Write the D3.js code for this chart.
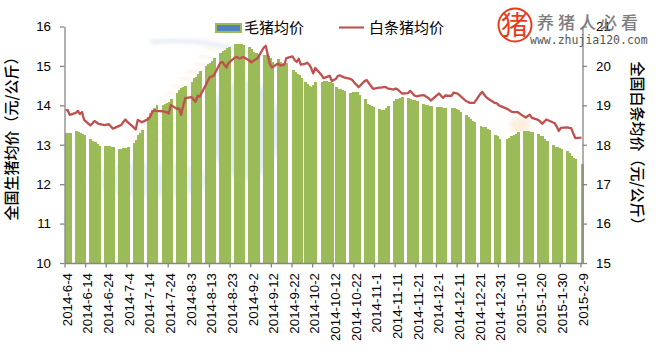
<!DOCTYPE html>
<html><head><meta charset="utf-8">
<script src="https://cdn.jsdelivr.net/npm/d3@7"></script>
<style>
html,body{margin:0;padding:0;background:#fff}
svg{display:block}
text{font-family:"Liberation Sans",Arial,sans-serif;fill:#000}
.cjk{font-family:"Noto Sans CJK SC",sans-serif}
</style></head><body><svg id="c" width="656" height="355"></svg>
<script>
const tickLabels = ["2014-6-4","2014-6-14","2014-6-24","2014-7-4","2014-7-14","2014-7-24","2014-8-3","2014-8-13","2014-8-23","2014-9-2","2014-9-12","2014-9-22","2014-10-2","2014-10-12","2014-10-22","2014-11-1","2014-11-11","2014-11-21","2014-12-1","2014-12-11","2014-12-21","2014-12-31","2015-1-10","2015-1-20","2015-1-30","2015-2-9"];
const extraSessions = ["2014-9-28","2014-10-11","2015-1-4"];
const closedSessions = ["2015-1-1","2015-1-2"];
const leftTicks = [10,11,12,13,14,15,16];
const rightTicks = [15,16,17,18,19,20,21];
const seriesNames = ["毛猪均价","白条猪均价"];
// 毛猪均价, one value per session, Mon-Fri rows
const hogPrice = [
13.29,13.30,13.30,
13.36,13.33,13.30,13.27,13.25,
13.15,13.10,13.07,13.02,12.98,
12.97,12.96,12.96,12.95,12.94,
12.89,12.90,12.92,12.93,12.95,
13.05,13.12,13.25,13.30,13.38,
13.71,13.81,13.88,13.93,14.01,
14.01,14.03,14.06,14.09,14.15,
14.31,14.39,14.44,14.46,14.49,
14.60,14.69,14.73,14.80,14.86,
15.00,15.04,15.08,15.13,15.19,
15.34,15.37,15.41,15.45,15.47,
15.56,15.56,15.56,15.56,15.53,
15.47,15.42,15.36,15.32,15.30,
15.28,15.27,15.24,15.19,15.11,
15.17,15.11,15.08,15.07,15.07,
14.90,14.84,14.80,14.76,14.69,
14.58,14.54,14.50,14.47,14.51,14.59,
14.60,14.62,14.63,14.60,14.58,14.56,
14.46,14.42,14.41,14.39,14.37,
14.31,14.33,14.35,14.33,14.27,
14.15,14.03,14.01,13.98,13.95,
13.90,13.89,13.88,13.93,13.98,
14.12,14.15,14.16,14.19,14.22,
14.18,14.17,14.14,14.13,14.12,
14.03,14.01,14.00,13.99,13.99,
13.95,13.95,13.95,13.94,13.93,
13.93,13.93,13.90,13.87,13.83,
13.75,13.70,13.65,13.61,13.57,
13.48,13.46,13.44,13.41,13.38,
13.25,13.21,13.14,
13.15,13.18,13.21,13.24,13.28,13.32,
13.34,13.35,13.35,13.33,13.32,
13.27,13.23,13.21,13.14,13.10,
13.00,12.95,12.94,12.92,12.90,
12.84,12.78,12.72,12.66,12.63,
12.51];
// 白条猪均价
const carcassPrice = [
18.88,18.88,18.76,
18.81,18.86,18.78,18.83,18.63,
18.49,18.54,18.60,18.57,18.53,
18.50,18.51,18.52,18.46,18.41,
18.48,18.50,18.58,18.64,18.58,
18.44,18.39,18.63,18.60,18.57,
18.65,18.71,18.83,18.87,18.86,
18.85,18.84,18.83,18.79,19.01,
18.91,18.93,18.76,18.98,19.18,
19.21,19.15,19.09,19.24,19.22,
19.52,19.63,19.72,19.73,19.77,
20.08,20.10,20.03,19.96,20.08,
20.21,20.23,20.19,20.20,20.23,
20.14,20.09,20.13,20.16,20.19,
20.46,20.51,20.28,20.05,19.96,
20.06,20.01,20.02,20.03,20.20,
20.24,20.15,20.10,20.18,20.03,
20.05,20.08,20.04,19.95,19.81,19.95,
19.77,19.69,19.71,19.73,19.75,19.62,
19.67,19.75,19.76,19.73,19.71,
19.67,19.64,19.57,19.52,19.46,
19.62,19.64,19.56,19.49,19.42,
19.45,19.45,19.46,19.47,19.43,
19.40,19.43,19.40,19.35,19.30,
19.31,19.37,19.31,19.25,19.23,
19.26,19.25,19.21,19.18,19.12,
19.26,19.30,19.24,19.19,19.25,
19.24,19.32,19.31,19.30,19.25,
19.11,19.09,19.06,19.06,19.06,
19.29,19.34,19.26,19.20,19.16,
19.06,19.05,19.00,
18.91,18.88,18.84,18.83,18.83,18.83,
18.72,18.69,18.73,18.76,18.68,
18.63,18.59,18.53,18.59,18.64,
18.57,18.55,18.46,18.35,18.43,
18.44,18.43,18.42,18.29,18.17,
18.18];

const parse = d3.utcParse("%Y-%m-%d");
const fmt = d3.utcFormat("%Y-%-m-%-d");
const firstDay = parse(tickLabels[0]);
const lastDay = parse(tickLabels[tickLabels.length-1]);
const extra = new Set(extraSessions), closed = new Set(closedSessions);
const sessions = d3.utcDay.range(firstDay, d3.utcDay.offset(lastDay,1)).filter(d=>{
  const k = fmt(d), w = d.getUTCDay();
  return !closed.has(k) && ((w>0 && w<6) || extra.has(k));
});
if (sessions.length!==hogPrice.length || sessions.length!==carcassPrice.length)
  console.error("length mismatch", sessions.length, hogPrice.length, carcassPrice.length);

const L=64.5, R=582.5, T=26.5, B=263;
const svg = d3.select("#c");
const x = d3.scaleUtc().domain([firstDay, d3.utcDay.offset(lastDay,1)]).range([L,R]);
const yL = d3.scaleLinear().domain([10,16]).range([B,T]);
const yR = d3.scaleLinear().domain([15,21]).range([B,T]);
const step = x(d3.utcDay.offset(firstDay,1))-x(firstDay);

// faint watermark behind the plot
const wm = svg.append("g");
const defs = svg.append("defs");
defs.append("filter").attr("id","soft").append("feGaussianBlur").attr("stdDeviation",2.2);
wm.append("path").attr("d","M150 42 Q205 36 262 58").attr("fill","none").attr("stroke","#d5deec").attr("stroke-width",3.5).attr("filter","url(#soft)").attr("opacity",.75);
d3.range(13).forEach(i=>{
  wm.append("line").attr("x1",205-i*6.6).attr("x2",165-i*2.5+50).attr("y1",48+i*7.4).attr("y2",50+i*7.8)
    .attr("stroke","#fdeedd").attr("stroke-width",3).attr("filter","url(#soft)").attr("opacity",.9);
});
wm.append("ellipse").attr("cx",245).attr("cy",130).attr("rx",36).attr("ry",50).attr("fill","#dfe7f3").attr("filter","url(#soft)").attr("opacity",.8);
wm.append("ellipse").attr("cx",520).attr("cy",125).attr("rx",10).attr("ry",8).attr("fill","#fdeedd").attr("filter","url(#soft)");
wm.append("ellipse").attr("cx",150).attr("cy",180).attr("rx",60).attr("ry",18).attr("fill","#dfe7f3").attr("filter","url(#soft)").attr("opacity",.6);

// bars
svg.append("g").attr("shape-rendering","crispEdges").selectAll("rect").data(hogPrice).join("rect")
  .attr("x",(v,i)=>x(sessions[i])+0.2)
  .attr("width",step+0.9)
  .attr("y",v=>yL(v))
  .attr("height",v=>yL(10)-yL(v))
  .attr("fill","#9BBB59");

// line
svg.append("path").datum(carcassPrice)
  .attr("fill","none").attr("stroke","#C0504D").attr("stroke-width",2.3)
  .attr("stroke-linejoin","round")
  .attr("d",d3.line().x((v,i)=>x(sessions[i])+step/2).y(v=>yR(v)));

// axes
function styleAxis(g){
  g.selectAll(".domain,.tick line").attr("stroke","#868686").attr("stroke-width",1.3);
  g.selectAll("text").attr("font-size",13.3).attr("fill","#000").attr("font-family","Liberation Sans");
}
const gL = svg.append("g").attr("transform",`translate(${L},0)`)
  .call(d3.axisLeft(yL).tickValues(leftTicks).tickSize(4.5).tickSizeOuter(0).tickPadding(9).tickFormat(d3.format("d"))).call(styleAxis);
const gR = svg.append("g").attr("transform",`translate(${R},0)`)
  .call(d3.axisRight(yR).tickValues(rightTicks).tickSize(4.5).tickSizeOuter(0).tickPadding(9).tickFormat(d3.format("d"))).call(styleAxis);
const gX = svg.append("g").attr("transform",`translate(0,${B})`)
  .call(d3.axisBottom(x).tickValues(tickLabels.map(parse)).tickSize(4.5).tickSizeOuter(0).tickFormat(fmt)).call(styleAxis);
gX.selectAll(".tick text").attr("text-anchor","end").attr("dy",null).attr("y",null)
  .attr("transform","translate(6.8,10) rotate(-90)").attr("x",0).attr("dominant-baseline","auto");

// axis titles
svg.append("text").attr("class","cjk").attr("text-anchor","middle").attr("font-size",15).attr("font-weight",500)
  .attr("transform","translate(16.5,135) rotate(-90)").text("全国生猪均价（元/公斤）");
svg.append("text").attr("class","cjk").attr("text-anchor","middle").attr("font-size",15).attr("font-weight",500)
  .attr("transform","translate(632,147) rotate(90)").text("全国白条均价（元/公斤）");

// legend
svg.append("rect").attr("x",216).attr("y",24).attr("width",25).attr("height",8).attr("fill","#4F81BD").attr("stroke","#9BBB59").attr("stroke-width",2);
svg.append("text").attr("class","cjk").attr("x",244).attr("y",33).attr("font-size",15).text(seriesNames[0]);
svg.append("line").attr("x1",339).attr("x2",364).attr("y1",27.5).attr("y2",27.5).attr("stroke","#C0504D").attr("stroke-width",2.1);
svg.append("text").attr("class","cjk").attr("x",369).attr("y",33).attr("font-size",15).text(seriesNames[1]);

// logo
svg.append("circle").attr("cx",515).attr("cy",25).attr("r",16.5).attr("fill","#fff").attr("stroke","#ea3a1c").attr("stroke-width",2);
svg.append("text").attr("class","cjk").attr("x",514.5).attr("y",35).attr("text-anchor","middle").attr("font-size",27).attr("font-weight",400).style("fill","#ea3a1c").text("猪");
svg.append("text").attr("class","cjk").attr("x",537).attr("y",29).attr("font-size",17).attr("letter-spacing",4).attr("font-weight",500).style("fill","#7d7d7d").text("养猪人必看");
svg.append("text").attr("x",530).attr("y",44).attr("font-size",11.5).style("font-family","DejaVu Sans Mono").style("fill","#555").text("www.zhujia120.com");
</script></body></html>
